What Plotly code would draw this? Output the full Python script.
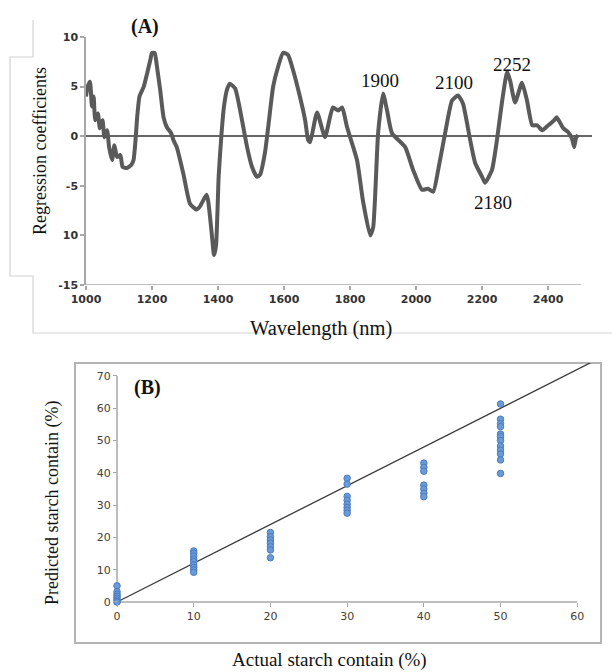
import plotly.graph_objects as go

# ---------------- data: panel (A) ----------------
wavelength = [1000, 1005, 1012, 1018, 1023, 1028, 1036, 1042, 1050, 1056, 1064, 1070, 1079, 1086,
              1094, 1104, 1111, 1124, 1137, 1144, 1150, 1155, 1162, 1175, 1185, 1195, 1200, 1208,
              1215, 1225, 1235, 1245, 1258, 1265, 1275, 1295, 1315, 1335, 1345, 1365, 1370, 1380,
              1388, 1394, 1402, 1410, 1418, 1428, 1436, 1452, 1467, 1488, 1503, 1518, 1527, 1542,
              1552, 1567, 1582, 1597, 1612, 1627, 1648, 1664, 1673, 1679, 1700, 1724, 1748, 1764,
              1776, 1791, 1821, 1839, 1861, 1870, 1885, 1900, 1912, 1927, 1967, 1991, 2018, 2036,
              2052, 2067, 2088, 2109, 2127, 2142, 2164, 2179, 2200, 2209, 2230, 2245, 2261, 2276,
              2285, 2300, 2321, 2336, 2352, 2367, 2382, 2397, 2418, 2426, 2446, 2461, 2472, 2479,
              2485, 2491]
coefficient = [4.0, 5.0, 5.5, 3.0, 4.0, 1.6, 2.3, 0.8, 1.6, -0.1, 0.6, -1.1, -2.4, -0.9,
               -2.1, -1.9, -3.1, -3.2, -2.9, -2.4, -0.4, 1.9, 4.0, 5.0, 6.3, 7.7, 8.4, 8.4,
               7.0, 4.6, 1.9, 0.9, 0.3, -0.4, -1.1, -3.8, -6.8, -7.4, -7.1, -5.9, -6.5, -9.5,
               -12.0, -11.0, -4.0, 0.0, 3.0, 4.8, 5.3, 4.8, 2.6, -1.1, -3.1, -4.1, -3.9, -1.7,
               0.9, 5.0, 7.0, 8.4, 8.2, 6.7, 4.0, 1.6, -0.4, -0.6, 2.4, -0.1, 2.9, 2.6,
               2.9, 0.9, -2.4, -6.5, -10.0, -9.2, 0.3, 4.3, 2.6, 0.3, -1.1, -3.4, -5.4, -5.3,
               -5.6, -3.4, 0.3, 3.6, 4.1, 3.3, -0.4, -2.7, -4.1, -4.7, -3.4, -0.4, 3.6, 6.5,
               5.6, 3.4, 5.4, 3.6, 1.1, 1.1, 0.6, 1.0, 1.6, 1.9, 0.8, 0.4, -0.2, -1.1,
               -0.1, 0.1]

a_xticks = [1000, 1200, 1400, 1600, 1800, 2000, 2200, 2400]
a_yticks = [-15, -10, -5, 0, 5, 10]
a_yticktext = ["-15", "10", "-5", "0", "5", "10"]

peak_labels = ["1900", "2100", "2252", "2180"]
peak_label_x = [1891, 2115, 2291, 2233]
peak_label_y = [5.6, 5.4, 7.2, -6.7]

# ---------------- data: panel (B) ----------------
actual = ([0] * 8 + [10] * 9 + [20] * 7 + [30] * 8 + [40] * 7 + [50] * 12)
predicted = ([5.0, 3.2, 2.4, 1.8, 1.2, 0.6, 0.1, 0.0] +
             [15.8, 15.1, 14.2, 13.3, 12.5, 11.5, 10.7, 9.9, 9.2] +
             [21.5, 20.2, 19.2, 18.2, 17.1, 16.1, 13.7] +
             [38.3, 36.5, 32.7, 31.5, 30.3, 29.3, 28.4, 27.5] +
             [43.0, 41.7, 40.5, 36.2, 35.0, 33.7, 32.6] +
             [61.3, 56.6, 55.2, 54.3, 52.0, 51.2, 50.0, 48.3, 47.0, 45.8, 44.0, 39.8])
fit_x = [0, 70]
fit_y = [0, 84]

b_xticks = [0, 10, 20, 30, 40, 50, 60]
b_yticks = [0, 10, 20, 30, 40, 50, 60, 70]

# ---------------- layout geometry ----------------
W, H = 612, 672
SERIF = "Liberation Serif, Times New Roman, serif"
SANS = "DejaVu Sans, sans-serif"


def px(x):
    return x / W


def py(y):
    return 1 - y / H


a_xdom = [px(86), px(592)]
a_ydom = [py(285), py(37)]
a_xrange = [1000, 2533]
a_yrange = [-15, 10]

b_xdom = [px(75), px(601)]
b_ydom = [py(643), py(363)]
b_xrange = [-5.48, 63.1]
b_yrange = [-12.7, 74.0]

b_xaxis_pos = b_ydom[0] + (0 - b_yrange[0]) / (b_yrange[1] - b_yrange[0]) * (b_ydom[1] - b_ydom[0])
b_yaxis_pos = b_xdom[0] + (0 - b_xrange[0]) / (b_xrange[1] - b_xrange[0]) * (b_xdom[1] - b_xdom[0])

fig = go.Figure()

fig.add_trace(go.Scatter(
    x=wavelength, y=coefficient, mode="lines",
    line=dict(color="#5a5a5a", width=4, shape="spline", smoothing=0.5),
    xaxis="x", yaxis="y", hoverinfo="x+y"))

fig.add_trace(go.Scatter(
    x=fit_x, y=fit_y, mode="lines",
    line=dict(color="#3a3a3a", width=1.3),
    xaxis="x2", yaxis="y2"))

fig.add_trace(go.Scatter(
    x=actual, y=predicted, mode="markers",
    marker=dict(size=6.5, color="#6b9ad8", line=dict(color="#4a7cc0", width=1)),
    cliponaxis=False, xaxis="x2", yaxis="y2"))

tickfont_a = dict(family=SANS, size=11, color="#333333", weight="bold")
tickfont_b = dict(family=SANS, size=11, color="#4a4030")

shapes = [
    dict(type="line", xref="x", yref="y", x0=1000, x1=2500, y0=-15, y1=-15,
         line=dict(color="#a8a8a8", width=1.5), layer="below"),
    dict(type="line", xref="x2", yref="y2", x0=b_xticks[0], x1=b_xticks[-1], y0=0, y1=0,
         line=dict(color="#a8a8a8", width=1.5), layer="below"),
    dict(type="line", xref="x2", yref="y2", x0=0, x1=0, y0=b_yticks[0], y1=b_yticks[-1],
         line=dict(color="#a8a8a8", width=1.5), layer="below"),
    dict(type="rect", xref="x2 domain", yref="y2 domain", x0=0, x1=1, y0=0, y1=1,
         line=dict(color="#b4b4b4", width=2), layer="below"),
    dict(type="path", xref="paper", yref="paper",
         path=(f"M {px(33)},{py(20)} L {px(33)},{py(57)} L {px(10)},{py(57)} "
               f"L {px(10)},{py(276)} L {px(33)},{py(276)} L {px(33)},{py(333)} "
               f"L {px(612)},{py(333)}"),
         line=dict(color="#d4d4d4", width=1.2)),
]


def ann(text, x, y, size, angle=0, xref="paper", yref="paper"):
    return dict(text=text, x=x, y=y, xref=xref, yref=yref, textangle=angle,
                xanchor="center", yanchor="middle", showarrow=False,
                font=dict(family=SERIF, size=size, color="#111"))


annotations = [
    ann("<b>(A)</b>", px(145), py(27), 20),
    ann("Regression coefficients", px(40), py(151), 18, -90),
    ann("Wavelength (nm)", px(321), py(328), 20.5),
    ann("<b>(B)</b>", px(147), py(388), 20),
    ann("Predicted starch contain (%)", px(52), py(503), 18, -90),
    ann("Actual starch contain (%)", px(329), py(660), 19),
]
for lab, lx, ly in zip(peak_labels, peak_label_x, peak_label_y):
    annotations.append(ann(lab, lx, ly, 19, xref="x", yref="y"))

fig.update_layout(
    template="none",
    width=W, height=H, autosize=False,
    margin=dict(l=0, r=0, t=0, b=0, pad=0),
    paper_bgcolor="white", plot_bgcolor="white",
    showlegend=False,
    xaxis=dict(domain=a_xdom, range=a_xrange, anchor="y", tickvals=a_xticks,
               ticks="outside", ticklen=4, tickcolor="#a8a8a8", tickwidth=1.5,
               showline=False, showgrid=False, zeroline=False, tickfont=tickfont_a,
               automargin=False),
    yaxis=dict(domain=a_ydom, range=a_yrange, anchor="x", tickvals=a_yticks,
               ticktext=a_yticktext, ticks="outside", ticklen=4, tickcolor="#a8a8a8",
               tickwidth=1.5, showline=True, linecolor="#a8a8a8", linewidth=1.5,
               showgrid=False, zeroline=True, zerolinecolor="#666666", zerolinewidth=2,
               tickfont=tickfont_a, automargin=False),
    xaxis2=dict(domain=b_xdom, range=b_xrange, anchor="free", position=b_xaxis_pos,
                tickvals=b_xticks, ticks="outside", ticklen=4, tickcolor="#a8a8a8",
                tickwidth=1.2, showline=False, showgrid=False, zeroline=False,
                tickfont=tickfont_b, automargin=False),
    yaxis2=dict(domain=b_ydom, range=b_yrange, anchor="free", position=b_yaxis_pos,
                tickvals=b_yticks, ticks="outside", ticklen=4, tickcolor="#a8a8a8",
                tickwidth=1.2, showline=False, showgrid=False, zeroline=False,
                tickfont=tickfont_b, automargin=False),
    shapes=shapes,
    annotations=annotations,
)

fig.write_html(
    "out.html",
    config={"displayModeBar": False},
    post_script="document.body.style.margin='0px';document.body.style.overflow='hidden';",
)
